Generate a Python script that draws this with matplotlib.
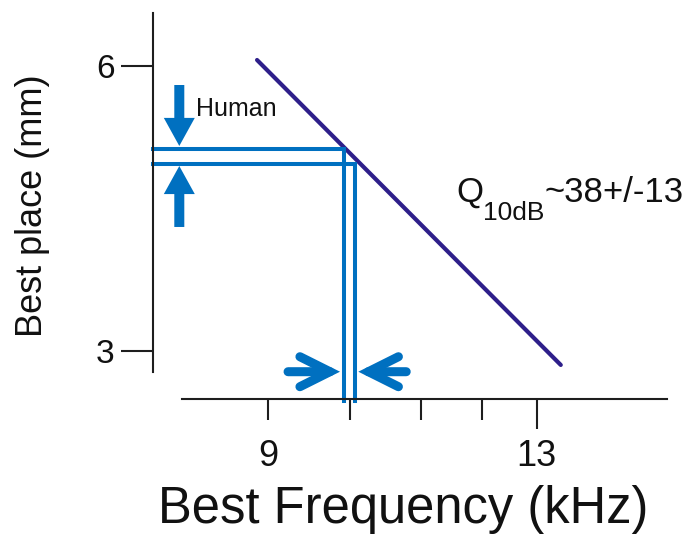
import numpy as np
import matplotlib
matplotlib.use("Agg")
from matplotlib import pyplot as plt

plt.rcParams["font.family"] = ["Liberation Sans", "DejaVu Sans"]

# data
freq_ticks = [9, 10, 11, 12, 13]
freq_tick_labels = ["9", "", "", "", "13"]
place_ticks = [3, 6]
place_tick_labels = ["3", "6"]

fit_freq = [8.874, 13.483]
fit_place = [6.060, 2.853]

human_freq = [9.911, 10.062]      # the two vertical guide lines
human_place = [5.129, 4.966]      # the two horizontal guide lines

freq_lim = (7.829, 15.977)
place_lim = (2.495, 6.551)

BLUE = "#0070c0"
INDIGO = "#2e1f8a"
AXIS = "#1e1e1e"


def fwd(x):
    x = np.asarray(x, dtype=float)
    with np.errstate(divide="ignore", invalid="ignore"):
        return -1.0 / np.sqrt(x)


def inv(u):
    u = np.asarray(u, dtype=float)
    with np.errstate(divide="ignore"):
        return 1.0 / u ** 2


fig = plt.figure(figsize=(6.93, 5.34), dpi=100)
fig.patch.set_facecolor("white")
ax = fig.add_axes([153 / 693, 1 - 399 / 534, 514 / 693, 385.7 / 534])
ax.set_xscale("function", functions=(fwd, inv))
ax.set_xlim(*freq_lim)
ax.set_ylim(*place_lim)

for side in ("top", "right"):
    ax.spines[side].set_visible(False)
ax.spines["left"].set_bounds(2.782, place_lim[1])
ax.spines["bottom"].set_bounds(8.099, freq_lim[1])
for side in ("left", "bottom"):
    ax.spines[side].set_linewidth(1.5)
    ax.spines[side].set_color(AXIS)

ax.set_xticks(freq_ticks)
ax.set_xticklabels(freq_tick_labels)
ax.xaxis.set_minor_locator(matplotlib.ticker.NullLocator())
ax.set_yticks(place_ticks)
ax.set_yticklabels(place_tick_labels)
ax.tick_params(axis="x", direction="out", length=15, width=1.5, color=AXIS,
               labelsize=26, pad=14, labelcolor="#111111")
ax.tick_params(axis="y", direction="out", length=23, width=1.5, color=AXIS,
               labelsize=24, pad=4.7, labelcolor="#111111")
# the 13 kHz tick is drawn longer
ax.xaxis.get_major_ticks()[-1].tick1line.set_markersize(21.6)

# tonotopic fit
ax.plot(fit_freq, fit_place, color=INDIGO, linewidth=3, solid_capstyle="round")

# human guide lines: horizontal from the y axis, then down to the x axis
for f, p in zip(human_freq, human_place):
    ax.plot([freq_lim[0], f, f], [p, p, 2.47], color=BLUE, linewidth=2.9,
            solid_joinstyle="miter", clip_on=False)

# vertical arrows pointing at the place band
simple = "simple,head_length=20.2,head_width=22.3,tail_width=7.2"
ax.annotate("", xy=(8.075, 5.156), xytext=(8.075, 5.797),
            arrowprops=dict(arrowstyle=simple, mutation_scale=1, color=BLUE,
                            lw=0, shrinkA=0, shrinkB=0))
ax.annotate("", xy=(8.075, 4.945), xytext=(8.075, 4.304),
            arrowprops=dict(arrowstyle=simple, mutation_scale=1, color=BLUE,
                            lw=0, shrinkA=0, shrinkB=0))

# horizontal arrows pointing at the frequency band
chevron = "->,head_length=21.6,head_width=10.8"
for tip, tail in ((9.865, 9.226), (10.106, 10.78)):
    ax.annotate("", xy=(tip, 2.782), xytext=(tail, 2.782),
                arrowprops=dict(arrowstyle=chevron, mutation_scale=1, color=BLUE,
                                lw=6.5, capstyle="round", joinstyle="miter",
                                shrinkA=0, shrinkB=0))

ax.annotate("Human", xy=(195.5, 534 - 116), xycoords="figure pixels",
            ha="left", va="baseline", fontsize=18, color="#111111")

q = ax.annotate("Q", xy=(456, 534 - 202), xycoords="figure pixels",
                ha="left", va="baseline", fontsize=25, color="#111111")
sub = ax.annotate("10dB", xy=(1, 0), xycoords=q, xytext=(0, -8),
                  textcoords="offset points", ha="left", va="baseline",
                  fontsize=19, color="#111111")
ax.annotate("~38+/-13", xy=(1, 0), xycoords=(sub, q), ha="left", va="bottom",
            fontsize=25, color="#111111")

ax.set_xlabel("Best Frequency (kHz)", fontsize=36.5, color="#111111")
ax.xaxis.set_label_coords(0.487, -0.224)
ax.set_ylabel("Best place (mm)", fontsize=26, color="#111111")
ax.yaxis.set_label_coords(-0.2, 0.5)

fig.savefig("out.png", dpi=100)
plt.close(fig)
